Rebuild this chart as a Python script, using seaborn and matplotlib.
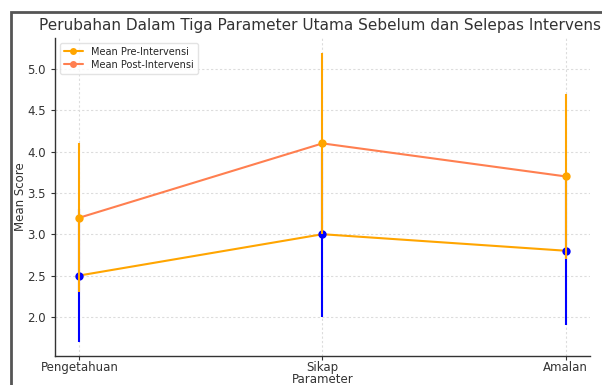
import matplotlib
matplotlib.use("Agg")
import matplotlib.pyplot as plt
import seaborn as sns
import pandas as pd
from matplotlib.patches import Rectangle

# Data
parameters = ["Pengetahuan", "Sikap", "Amalan"]
mean_pre = [2.5, 3.0, 2.8]
mean_post = [3.2, 4.1, 3.7]
sd_pre = [0.8, 1.0, 0.9]
sd_post = [0.9, 1.1, 1.0]

sns.set_style("whitegrid", {
    "grid.linestyle": (0, (2, 2)),
    "grid.color": "#dcdcdc",
    "axes.edgecolor": "#333333",
    "axes.spines.top": False,
    "axes.spines.right": False,
    "xtick.bottom": True,
    "ytick.left": True,
})
plt.rcParams["font.family"] = ["DejaVu Sans"]

df = pd.DataFrame({"Parameter": parameters, "Pre": mean_pre, "Post": mean_post})

fig = plt.figure(figsize=(6.02, 3.85), dpi=100)
ax = fig.add_axes([0.0914, 0.0753, 0.8886, 0.8257])

sns.lineplot(data=df, x="Parameter", y="Pre", marker="o", color="orange",
             label="Mean Pre-Intervensi", ax=ax, linewidth=1.5,
             markersize=5, markeredgewidth=0, sort=False)
sns.lineplot(data=df, x="Parameter", y="Post", marker="o", color="coral",
             label="Mean Post-Intervensi", ax=ax, linewidth=1.5,
             markersize=5, markeredgewidth=0, sort=False)

ax.errorbar(parameters, mean_pre, yerr=sd_pre, fmt="o", color="blue",
            markersize=5, elinewidth=1.5, zorder=3)
ax.errorbar(parameters, mean_post, yerr=sd_post, fmt="o", color="orange",
            markersize=5, elinewidth=1.5, zorder=4)

ax.set_xlim(-0.1, 2.1)
ax.set_ylim(1.525, 5.375)
ax.set_yticks([2.0, 2.5, 3.0, 3.5, 4.0, 4.5, 5.0])
ax.tick_params(axis="both", labelsize=8.5, colors="#333333", length=3, width=0.8)
ax.tick_params(axis="x", pad=0.5)
for s in ("left", "bottom"):
    ax.spines[s].set_linewidth(1.0)

ax.set_title("Perubahan Dalam Tiga Parameter Utama Sebelum dan Selepas Intervensi",
             fontsize=11, color="#333333", pad=6)
ax.set_xlabel("Parameter", fontsize=8.5, color="#333333")
ax.set_ylabel("Mean Score", fontsize=8.5, color="#333333")
ax.xaxis.set_label_coords(0.5, -0.053)
ax.yaxis.set_label_coords(-0.052, 0.5)

leg = ax.legend(loc="upper left", fontsize=7, frameon=True,
                borderpad=0.4, handlelength=2.0, labelspacing=0.3)
leg.get_frame().set_edgecolor("#dddddd")

# Outer frame of the figure
fig.patches.append(Rectangle((11 / 602, -0.05), 1.2, 1 - 12 / 385 + 0.05,
                             transform=fig.transFigure, fill=False,
                             edgecolor="#555555", linewidth=2, zorder=10))

fig.savefig("out.png", dpi=100)
